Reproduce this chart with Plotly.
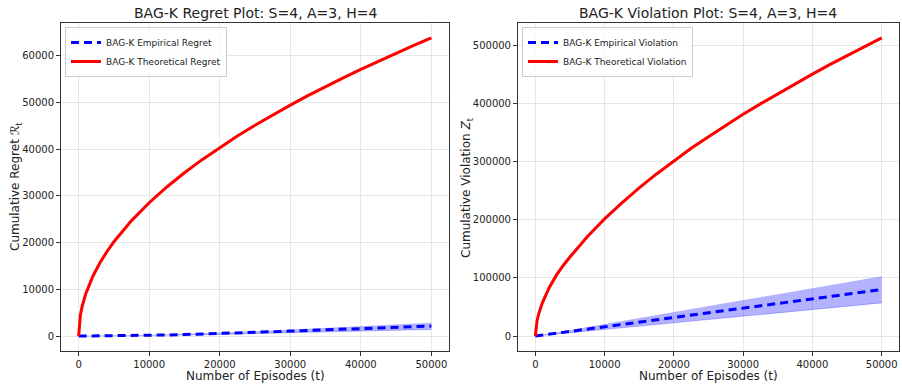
import plotly.graph_objects as go

# ---- data ----
episodes = [0, 250, 500, 1000, 2000, 3000, 4000, 5000, 7500, 10000, 12500, 15000, 17500,
            20000, 22500, 25000, 27500, 30000, 32500, 35000, 37500, 40000, 42500, 45000,
            47500, 50000]

regret_theory = [0, 4510, 6380, 9030, 12770, 15640, 18060, 20190, 24720, 28550, 31920,
                 34970, 37770, 40380, 42830, 45140, 47350, 49450, 51470, 53410, 55290,
                 57100, 58860, 60560, 62220, 63840]
regret_emp = [0, 1, 3, 8, 15, 25, 32, 40, 95, 170, 245, 330, 430, 550, 670, 800, 930,
              1070, 1210, 1350, 1490, 1640, 1770, 1900, 2020, 2140]
regret_emp_lo = [0, 1, 2, 5, 10, 17, 21, 27, 64, 114, 164, 221, 288, 368, 449, 536, 623,
                 717, 811, 905, 998, 1099, 1186, 1273, 1353, 1430]
regret_emp_hi = [0, 1, 4, 11, 20, 33, 43, 53, 126, 226, 326, 439, 572, 732, 891, 1064,
                 1237, 1423, 1609, 1796, 1982, 2181, 2354, 2527, 2687, 2840]

viol_theory = [0, 26500, 38800, 56800, 83200, 104000, 121000, 136000, 171000, 201700,
               229000, 255000, 279000, 301500, 323000, 343000, 362500, 381500, 399500,
               417000, 434000, 450700, 467000, 482700, 498200, 513000]
viol_emp = [0, 400, 800, 1600, 3200, 4800, 6400, 8000, 12000, 16000, 20000, 24000, 28000,
            32000, 36000, 40000, 44000, 48000, 52000, 56000, 60000, 64000, 68000, 72000,
            76000, 80100]
viol_emp_lo = [0, 285, 570, 1140, 2280, 3420, 4560, 5700, 8560, 11400, 14260, 17100,
               19960, 22800, 25670, 28500, 31370, 34200, 37080, 39900, 42790, 45600, 48490,
               51300, 54200, 57100]
viol_emp_hi = [0, 515, 1030, 2060, 4110, 6170, 8220, 10280, 15420, 20560, 25700, 30840,
               35980, 41120, 46260, 51400, 56540, 61680, 66820, 71960, 77100, 82240, 87380,
               92520, 97660, 102900]

x_ticks = [0, 10000, 20000, 30000, 40000, 50000]
regret_ticks = [0, 10000, 20000, 30000, 40000, 50000, 60000]
viol_ticks = [0, 100000, 200000, 300000, 400000, 500000]

blue = "#0000ff"
red = "#ff0000"
band = "rgba(0,0,255,0.3)"

fig = go.Figure()

def add_panel(xa, ya, leg, emp, lo, hi, theo, emp_name, theo_name):
    fig.add_trace(go.Scatter(x=episodes, y=hi, mode="lines", line=dict(width=0),
                             showlegend=False, hoverinfo="skip", xaxis=xa, yaxis=ya, legend=leg))
    fig.add_trace(go.Scatter(x=episodes, y=lo, mode="lines", line=dict(width=0.8, color="rgba(0,0,255,0.3)"),
                             fill="tonexty", fillcolor=band, showlegend=False,
                             hoverinfo="skip", xaxis=xa, yaxis=ya, legend=leg))
    fig.add_trace(go.Scatter(x=episodes, y=emp, mode="lines", name=emp_name,
                             line=dict(color=blue, width=3, dash="8px,5px"),
                             xaxis=xa, yaxis=ya, legend=leg))
    fig.add_trace(go.Scatter(x=episodes, y=theo, mode="lines", name=theo_name,
                             line=dict(color=red, width=3),
                             xaxis=xa, yaxis=ya, legend=leg))

add_panel("x", "y", "legend", regret_emp, regret_emp_lo, regret_emp_hi, regret_theory,
          "BAG-K Empirical Regret", "BAG-K Theoretical Regret")
add_panel("x2", "y2", "legend2", viol_emp, viol_emp_lo, viol_emp_hi, viol_theory,
          "BAG-K Empirical Violation", "BAG-K Theoretical Violation")

font_family = "DejaVu Sans"
tickfont = dict(family=font_family, size=10, color="#222")

axis_common = dict(showgrid=True, gridcolor="rgba(176,176,176,0.3)", gridwidth=1,
                   showline=True, linecolor="#333", linewidth=1, mirror=True,
                   ticks="outside", ticklen=4, tickcolor="#333", tickfont=tickfont,
                   zeroline=False, tickformat="d")

L = (61 / 902, 449 / 902)
R = (518 / 902, 899 / 902)
Y = (1 - 351 / 385, 1 - 23 / 385)

legend_common = dict(xanchor="left", yanchor="top", traceorder="normal",
                     bgcolor="rgba(255,255,255,0.8)", bordercolor="#cccccc", borderwidth=1,
                     font=dict(family=font_family, size=9, color="#222"), tracegroupgap=0,
                     itemwidth=30)

def label(text, x, y, angle=0, size=12):
    return dict(text=text, x=x, y=y, xref="paper", yref="paper", showarrow=False,
                xanchor="center", yanchor="middle", textangle=angle,
                font=dict(family=font_family, size=size, color="#222"))

ymid = 1 - 187 / 385
xt_y = 1 - 376 / 385

fig.update_layout(
    width=902, height=385, margin=dict(l=0, r=0, t=0, b=0),
    paper_bgcolor="white", plot_bgcolor="white",
    font=dict(family=font_family),
    xaxis=dict(domain=L, range=[-2500, 52500], tickvals=x_ticks, **axis_common),
    yaxis=dict(domain=Y, range=[-3190, 67030], anchor="x", tickvals=regret_ticks, **axis_common),
    xaxis2=dict(domain=R, range=[-2500, 52500], anchor="y2", tickvals=x_ticks, **axis_common),
    yaxis2=dict(domain=Y, range=[-25650, 538650], anchor="x2", tickvals=viol_ticks, **axis_common),
    legend=dict(x=L[0] + 4 / 902, y=Y[1] - 4 / 385, **legend_common),
    legend2=dict(x=R[0] + 4 / 902, y=Y[1] - 4 / 385, **legend_common),
    annotations=[
        label("BAG-K Regret Plot: S=4, A=3, H=4", (L[0] + L[1]) / 2, 1 - 13 / 385, size=14),
        label("BAG-K Violation Plot: S=4, A=3, H=4", (R[0] + R[1]) / 2, 1 - 13 / 385, size=14),
        label("Number of Episodes (t)", (L[0] + L[1]) / 2, xt_y),
        label("Number of Episodes (t)", (R[0] + R[1]) / 2, xt_y),
        label("Cumulative Regret ℛ<sub>t</sub>", 16 / 902, ymid, angle=-90),
        label("Cumulative Violation <i>Z</i><sub>t</sub>", 467 / 902, ymid, angle=-90),
    ],
)

fig.write_html("out.html")
